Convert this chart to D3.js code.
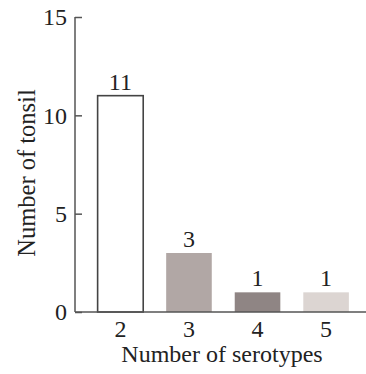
<!DOCTYPE html>
<html><head><meta charset="utf-8">
<script src="https://cdn.jsdelivr.net/npm/d3@7"></script>
<style>body{margin:0;background:#fff}svg{display:block}</style>
</head><body>
<svg id="c" width="366" height="374"></svg>
<script>
const categories = ["2","3","4","5"];
const values = [11,3,1,1];
const colors = ["#ffffff","#b1a7a5","#8f8584","#dcd5d2"];
const yTicks = [0,5,10,15];

const svg = d3.select("#c");
const font = "'Liberation Serif','Times New Roman',serif";
const axisColor = "#555";
const textColor = "#222";
const x0 = 75, y0 = 312;
const x = d3.scaleBand().domain(categories).range([x0, 371.5]).paddingInner(0.335).paddingOuter(0.33);
const y = d3.scaleLinear().domain([0,15]).range([y0, 17]);

// bars
svg.selectAll("rect.bar").data(values).enter().append("rect")
  .attr("x",(d,i)=>x(categories[i]))
  .attr("y",d=>y(d))
  .attr("width",x.bandwidth())
  .attr("height",d=>y(0)-y(d))
  .attr("fill",(d,i)=>colors[i])
  .attr("stroke",(d,i)=>i===0?"#444":"none")
  .attr("stroke-width",1.6);

// value labels
svg.selectAll("text.val").data(values).enter().append("text")
  .attr("x",(d,i)=>x(categories[i])+x.bandwidth()/2)
  .attr("y",d=>y(d)-6)
  .attr("text-anchor","middle")
  .attr("font-family",font).attr("font-size",24).attr("fill",textColor)
  .text(d=>d);

// y axis
const ya = svg.append("g").attr("transform",`translate(${x0},0)`)
  .call(d3.axisRight(y).tickValues(yTicks).tickSize(7).tickFormat(d3.format("d")));
ya.select(".domain").remove();
ya.selectAll(".tick line").attr("stroke",axisColor).attr("stroke-width",1.5);
ya.selectAll(".tick text").attr("x",-8).attr("text-anchor","end")
  .attr("font-family",font).attr("font-size",24).attr("fill",textColor);
svg.append("line").attr("x1",x0).attr("x2",x0).attr("y1",y(15)).attr("y2",y0)
  .attr("stroke",axisColor).attr("stroke-width",1.5);

// x axis
const xa = svg.append("g").attr("transform",`translate(0,${y0})`)
  .call(d3.axisBottom(x).tickSize(0).tickPadding(8));
xa.select(".domain").remove();
xa.selectAll(".tick text").attr("font-family",font).attr("font-size",24).attr("fill",textColor);
svg.append("line").attr("x1",x0).attr("x2",366).attr("y1",y0).attr("y2",y0)
  .attr("stroke",axisColor).attr("stroke-width",1.5);

// axis titles
svg.append("text").attr("x",222).attr("y",362).attr("text-anchor","middle")
  .attr("font-family",font).attr("font-size",24).attr("fill",textColor).text("Number of serotypes");
svg.append("text").attr("transform","translate(35,173) rotate(-90)").attr("text-anchor","middle")
  .attr("font-family",font).attr("font-size",24.5).attr("fill",textColor).text("Number of tonsil");
</script>
</body></html>
